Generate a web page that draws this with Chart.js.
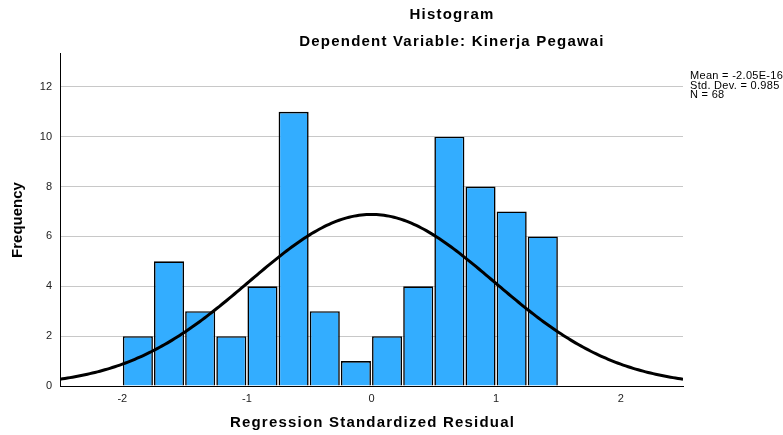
<!DOCTYPE html>
<html>
<head>
<meta charset="utf-8">
<script src="https://cdn.jsdelivr.net/npm/chart.js@4.4.1/dist/chart.umd.min.js"></script>
<style>
html,body{margin:0;padding:0;background:#fff;}
#wrap{width:783px;height:435px;position:relative;}
</style>
</head>
<body>
<div id="wrap"><canvas id="c" width="783" height="435"></canvas></div>
<script>
// Data
const binStart = -2.0;
const binWidth = 0.25;
const counts = [2, 5, 3, 2, 4, 11, 3, 1, 2, 4, 10, 8, 7, 6];
const xTicks = [-2, -1, 0, 1, 2];
const yTicks = [0, 2, 4, 6, 8, 10, 12];
const statMean = -2.05e-16;
const statSD = 0.985;
const statN = 68;
const statLines = ["Mean = -2.05E-16", "Std. Dev. = 0.985", "N = 68"];
const titleLines = ["Histogram", "Dependent Variable: Kinerja Pegawai"];
const xTitle = "Regression Standardized Residual";
const yTitle = "Frequency";

const barData = counts.map((c, i) => ({x: binStart + binWidth * (i + 0.5), y: c}));
const curve = [];
for (let i = 0; i <= 250; i++) {
  const x = -2.5 + i * 0.02;
  const z = (x - statMean) / statSD;
  const y = statN * binWidth * Math.exp(-0.5 * z * z) / (statSD * Math.sqrt(2 * Math.PI));
  curve.push({x, y});
}

const textPlugin = {
  id: 'texts',
  afterDraw(chart) {
    const ctx = chart.ctx;
    const a = chart.chartArea;
    ctx.save();
    ctx.fillStyle = '#000';
    ctx.textBaseline = 'middle';
    ctx.textAlign = 'center';
    ctx.font = 'bold 15px "Liberation Sans", Arial, sans-serif';
    ctx.letterSpacing = '1.2px';
    ctx.fillText(titleLines[0], 452, 15);
    ctx.fillText(titleLines[1], 452, 42);
    ctx.fillText(xTitle, (a.left + a.right) / 2 + 1, 423);
    ctx.letterSpacing = '0px';
    ctx.save();
    ctx.translate(18, 220);
    ctx.rotate(-Math.PI / 2);
    ctx.fillText(yTitle, 0, 0);
    ctx.restore();
    ctx.textAlign = 'left';
    ctx.font = '11px "Liberation Sans", Arial, sans-serif';
    ctx.letterSpacing = '0.3px';
    statLines.forEach((s, i) => ctx.fillText(s, 690, 76 + i * 9.5));
    ctx.restore();
  }
};

new Chart(document.getElementById('c'), {
  type: 'bar',
  data: {
    datasets: [
      {
        type: 'line',
        data: curve,
        borderColor: '#000',
        borderWidth: 3,
        pointRadius: 0,
        fill: false,
        tension: 0,
        order: 0
      },
      {
        type: 'bar',
        data: barData,
        backgroundColor: 'rgb(51,173,255)',
        borderColor: '#000',
        borderWidth: 1.6,
        barPercentage: 0.965,
        categoryPercentage: 1,
        order: 1
      }
    ]
  },
  options: {
    responsive: false,
    animation: false,
    layout: {padding: {top: 53, right: 100, left: 0, bottom: 0}},
    plugins: {legend: {display: false}, tooltip: {enabled: false}},
    scales: {
      x: {
        type: 'linear',
        offset: false,
        min: -2.5,
        max: 2.5,
        afterBuildTicks: ax => { ax.ticks = xTicks.map(v => ({value: v})); },
        afterFit: ax => { ax.height = 49; },
        grid: {display: false, drawTicks: false, offset: false},
        border: {display: true, color: '#000', width: 1},
        ticks: {color: '#222', padding: 6, font: {family: '"Liberation Sans", Arial, sans-serif', size: 11}}
      },
      y: {
        type: 'linear',
        min: 0,
        max: 13.36,
        afterBuildTicks: ax => { ax.ticks = yTicks.map(v => ({value: v})); },
        afterFit: ax => { ax.width = 60; },
        grid: {color: '#c8c8c8', drawTicks: false},
        border: {display: true, color: '#000', width: 1},
        ticks: {color: '#222', padding: 8, font: {family: '"Liberation Sans", Arial, sans-serif', size: 11}}
      }
    }
  },
  plugins: [textPlugin]
});
</script>
</body>
</html>
